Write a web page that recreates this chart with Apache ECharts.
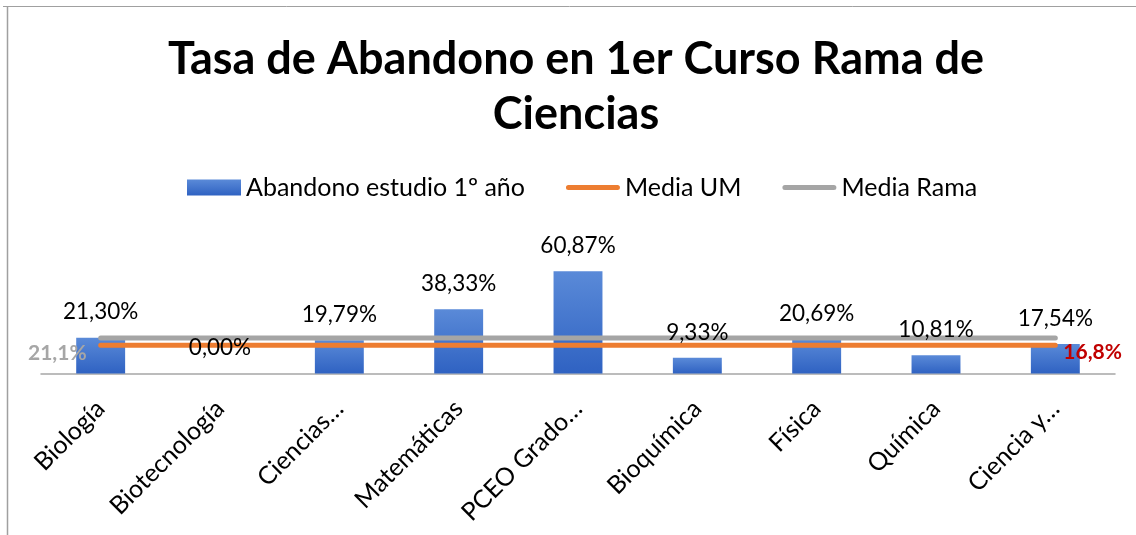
<!DOCTYPE html>
<html>
<head>
<meta charset="utf-8">
<script src="https://cdn.jsdelivr.net/npm/echarts@6/dist/echarts.min.js"></script>
<style>
html,body{margin:0;padding:0;background:#fff;}
#c{width:1136px;height:535px;}
</style>
</head>
<body>
<div id="c"></div>
<script>
const categories = ['Biología','Biotecnología','Ciencias…','Matemáticas','PCEO Grado…','Bioquímica','Física','Química','Ciencia y…'];
const abandono = [21.30, 0.00, 19.79, 38.33, 60.87, 9.33, 20.69, 10.81, 17.54];
const mediaUM = [16.8, 16.8, 16.8, 16.8, 16.8, 16.8, 16.8, 16.8, 16.8];
const mediaRama = [21.1, 21.1, 21.1, 21.1, 21.1, 21.1, 21.1, 21.1, 21.1];
const seriesNames = ['Abandono estudio 1º año', 'Media UM', 'Media Rama'];
const titleText = 'Tasa de Abandono en 1er Curso Rama de\nCiencias';

const FONT = 'Lato';
const chart = echarts.init(document.getElementById('c'), null, {renderer: 'canvas'});
const fmt2 = v => v.toFixed(2).replace('.', ',') + '%';
const fmt1 = v => v.toFixed(1).replace('.', ',') + '%';
const lineIcon = 'path://M0,0 L0.01,0 L0,0.01 Z M2.5,5.5 H51.5 A2.5,2.5 0 0 1 51.5,10.5 H2.5 A2.5,2.5 0 0 1 2.5,5.5 Z M0,16 L0.01,16 L0,15.99 Z';

chart.setOption({
  animation: false,
  backgroundColor: '#ffffff',
  title: {
    text: titleText,
    left: 571,
    top: 27,
    textAlign: 'center',
    textStyle: {fontFamily: FONT, fontWeight: 'bold', fontSize: 45, lineHeight: 55, color: '#000'}
  },
  legend: {
    top: 170,
    left: 182,
    itemGap: 41,
    itemWidth: 54,
    itemHeight: 16,
    textStyle: {fontFamily: FONT, fontSize: 25, color: '#000'},
    data: [
      {name: seriesNames[0], icon: 'rect'},
      {name: seriesNames[1], icon: lineIcon, itemStyle: {color: '#ED7D31', borderWidth: 0}},
      {name: seriesNames[2], icon: lineIcon, itemStyle: {color: '#A5A5A5', borderWidth: 0}}
    ]
  },
  grid: {left: 41, right: 21, top: 256, bottom: 161.5},
  xAxis: {
    type: 'category',
    data: categories,
    axisLine: {lineStyle: {color: '#A6A6A6', width: 1.5}},
    axisTick: {show: false},
    axisLabel: {rotate: 45, fontFamily: FONT, fontSize: 25, color: '#000', margin: 31, interval: 0}
  },
  yAxis: {
    type: 'value', min: 0, max: 70, show: false
  },
  series: [
    {
      name: seriesNames[0],
      type: 'bar',
      data: abandono,
      barCategoryGap: '59%',
      z: 1,
      itemStyle: {color: new echarts.graphic.LinearGradient(0, 0, 0, 1, [
        {offset: 0, color: '#5A8AD8'}, {offset: 1, color: '#2F62C2'}])}
    },
    {
      name: seriesNames[1],
      type: 'line',
      data: mediaUM,
      symbol: 'none',
      lineStyle: {color: '#ED7D31', width: 5, cap: 'round'},
      itemStyle: {color: '#ED7D31'},
      z: 3,
      endLabel: {show: true, distance: 8, offset: [0, 7], fontFamily: FONT, fontWeight: 'bold', fontSize: 21, color: '#C00000',
        formatter: p => fmt1(p.value)}
    },
    {
      name: seriesNames[2],
      type: 'line',
      data: mediaRama,
      symbol: 'none',
      lineStyle: {color: '#A5A5A5', width: 5, cap: 'round'},
      itemStyle: {color: '#A5A5A5'},
      z: 2,
      markPoint: {
        symbol: 'circle', symbolSize: 0,
        data: [{coord: [0, mediaRama[0]], value: mediaRama[0]}],
        label: {show: true, position: 'left', distance: 14, offset: [0, 15], fontFamily: FONT, fontWeight: 'bold', fontSize: 21, color: '#A6A6A6',
          formatter: p => fmt1(p.value)}
      }
    },
    {
      name: 'labels',
      type: 'bar',
      data: abandono,
      barCategoryGap: '59%',
      barGap: '-100%',
      z: 5,
      silent: true,
      itemStyle: {color: 'rgba(0,0,0,0)'},
      label: {show: true, position: 'top', distance: 14, fontFamily: FONT, fontSize: 22.5, color: '#000',
        formatter: p => fmt2(p.value)}
    }
  ],
  graphic: [
    {type: 'line', shape: {x1: 3, y1: 6.5, x2: 1136, y2: 6.5}, style: {stroke: '#A0A0A0', lineWidth: 1}, silent: true},
    {type: 'line', shape: {x1: 7.5, y1: 6, x2: 7.5, y2: 535}, style: {stroke: '#A0A0A0', lineWidth: 1.5}, silent: true}
  ]
});
</script>
</body>
</html>
